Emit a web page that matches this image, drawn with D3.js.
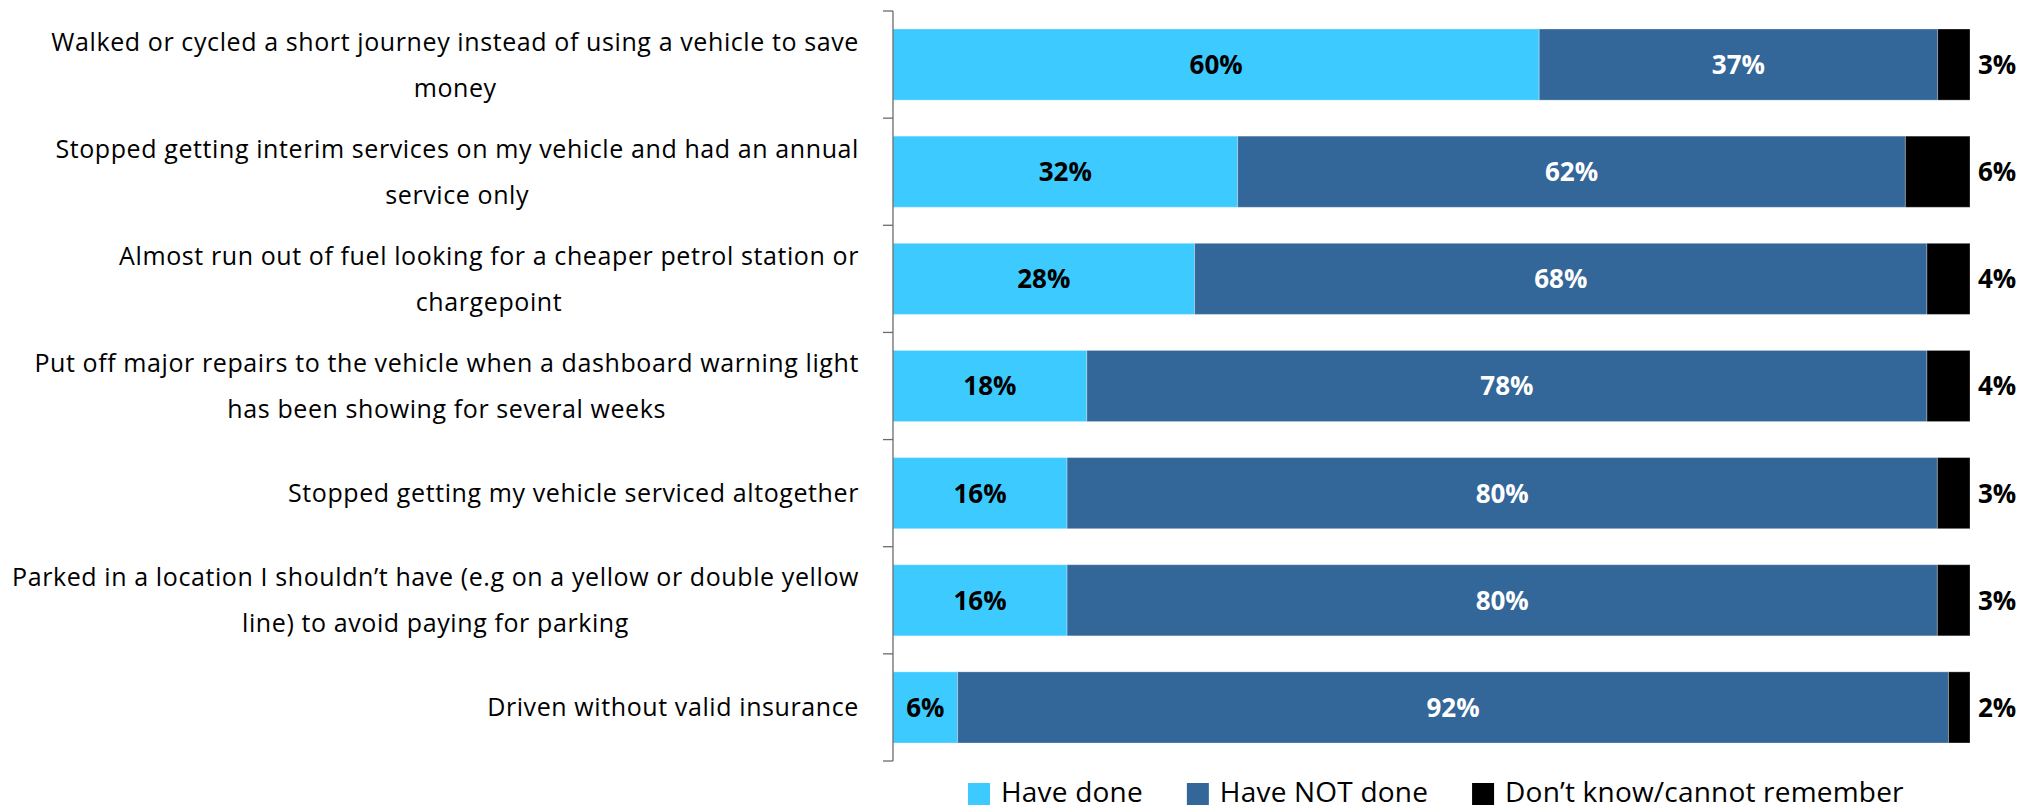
<!DOCTYPE html>
<html>
<head>
<meta charset="utf-8">
<script src="https://cdn.jsdelivr.net/npm/d3@7/dist/d3.min.js"></script>
<style>
  html, body { margin: 0; padding: 0; background: #fff; }
  svg { display: block; }
</style>
</head>
<body>
<svg id="chart" width="2023" height="811"></svg>
<script>
// Survey statements (line breaks mark where each label wraps)
const categories = [
  "Walked or cycled a short journey instead of using a vehicle to save\nmoney",
  "Stopped getting interim services on my vehicle and had an annual\nservice only",
  "Almost run out of fuel looking for a cheaper petrol station or\nchargepoint",
  "Put off major repairs to the vehicle when a dashboard warning light\nhas been showing for several weeks",
  "Stopped getting my vehicle serviced altogether",
  "Parked in a location I shouldn’t have (e.g on a yellow or double yellow\nline) to avoid paying for parking",
  "Driven without valid insurance"
];

// Response shares (%)
const haveDone    = [60, 32, 28, 18, 16, 16, 6];
const haveNotDone = [37, 62, 68, 78, 80, 80, 92];
const dontKnow    = [3, 6, 4, 4, 3, 3, 2];

const seriesNames = ["Have done", "Have NOT done", "Don’t know/cannot remember"];
const seriesColors = ["#3DCBFF", "#336699", "#000000"];
const labelColors = ["#000000", "#ffffff", "#000000"];

const rows = categories.map((c, i) => ({
  cat: c,
  "Have done": haveDone[i],
  "Have NOT done": haveNotDone[i],
  "Don’t know/cannot remember": dontKnow[i]
}));

const svg = d3.select("#chart");
const axisX = 893, plotRight = 1970, plotTop = 11, plotBottom = 761;

const y = d3.scaleBand()
  .domain(categories)
  .range([plotTop, plotBottom])
  .paddingInner(0.336)
  .paddingOuter(0.168);

const x = d3.scaleLinear().domain([0, 1]).range([axisX, plotRight]);

// 100% stacked layout
const stack = d3.stack().keys(seriesNames).offset(d3.stackOffsetExpand);
const stacked = stack(rows);

const layers = svg.append("g").selectAll("g")
  .data(stacked)
  .join("g")
  .attr("fill", (d, i) => seriesColors[i]);

layers.selectAll("rect")
  .data(d => d.map(p => ({ p, key: d.key })))
  .join("rect")
  .attr("x", d => x(d.p[0]))
  .attr("y", d => y(d.p.data.cat))
  .attr("width", d => x(d.p[1]) - x(d.p[0]))
  .attr("height", y.bandwidth())
  .attr("stroke", "rgba(255,255,255,0.3)")
  .attr("stroke-width", 1);

// Value labels: inside for the first two series, beside the bar end for the last
stacked.forEach((layer, si) => {
  svg.append("g").selectAll("text")
    .data(layer)
    .join("text")
    .attr("x", d => si === 2 ? x(d[1]) + 8 : (x(d[0]) + x(d[1])) / 2)
    .attr("y", d => y(d.data.cat) + y.bandwidth() / 2)
    .attr("dy", "0.36em")
    .attr("text-anchor", si === 2 ? "start" : "middle")
    .attr("fill", labelColors[si])
    .style("font-family", "'Open Sans', sans-serif")
    .style("font-weight", 700)
    .style("font-size", "26px")
    .text(d => d.data[layer.key] + "%");
});

// Category axis: spine plus tick marks at the band boundaries
const axisG = svg.append("g").attr("transform", `translate(${axisX},0)`);
axisG.append("line")
  .attr("x1", 0).attr("x2", 0)
  .attr("y1", plotTop).attr("y2", plotBottom)
  .attr("stroke", "#6b6b6b").attr("stroke-width", 1.3);
const bounds = d3.range(categories.length + 1).map(i => plotTop + i * y.step());
axisG.selectAll("line.tick")
  .data(bounds)
  .join("line")
  .attr("class", "tick")
  .attr("x1", -10).attr("x2", 0)
  .attr("y1", d => d).attr("y2", d => d)
  .attr("stroke", "#6b6b6b").attr("stroke-width", 1.3);

// Category labels: block right-aligned to the axis, lines centred within the block
const labelRight = 859, lineGap = 46;
const labelFont = "'Open Sans', sans-serif";
categories.forEach(c => {
  const lines = c.split("\n");
  const g = svg.append("g");
  const texts = lines.map((ln, i) => g.append("text")
    .style("font-family", labelFont)
    .style("font-size", "25px")
    .style("letter-spacing", "0.6px")
    .attr("fill", "#000")
    .attr("text-anchor", "middle")
    .attr("y", y(c) + y.bandwidth() / 2 + (i - (lines.length - 1) / 2) * lineGap)
    .attr("dy", "0.36em")
    .text(ln));
  const w = d3.max(texts, t => t.node().getComputedTextLength());
  texts.forEach(t => t.attr("x", labelRight - w / 2));
});

// Legend
const legend = svg.append("g");
let lx = 968;
seriesNames.forEach((name, i) => {
  legend.append("rect")
    .attr("x", lx).attr("y", 783)
    .attr("width", 22).attr("height", 22)
    .attr("fill", seriesColors[i]);
  const t = legend.append("text")
    .attr("x", lx + 33).attr("y", 802)
    .style("font-family", labelFont)
    .style("font-size", "28px")
    .style("letter-spacing", "0.2px")
    .attr("fill", "#000")
    .text(name);
  lx += 33 + t.node().getComputedTextLength() + 44;
});
</script>
</body>
</html>
